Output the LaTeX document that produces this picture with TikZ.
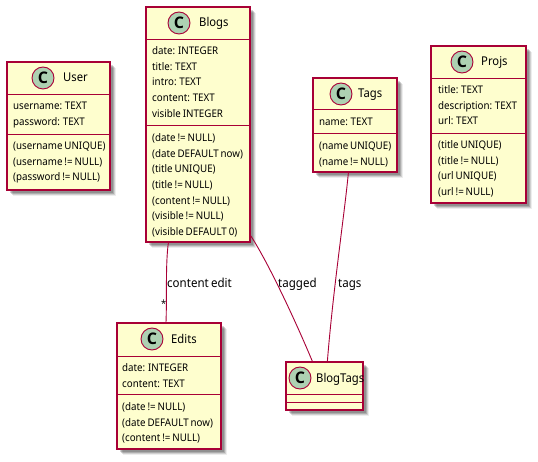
\documentclass[tikz,border=0pt]{standalone}
\usepackage{fontspec}
\setmainfont[FakeStretch=0.93,WordSpace=0.75]{Noto Sans}
\newfontfamily\spotfont{Open Sans}
\usetikzlibrary{shadows,calc}
\definecolor{umlline}{HTML}{A80036}
\definecolor{umlfill}{HTML}{FEFECE}
\definecolor{umlcirc}{HTML}{ADD1B2}
\tikzset{
  classbox/.style={draw=umlline,line width=1.25pt,fill=umlfill,rectangle,inner sep=0pt,
    general shadow={shadow xshift=6pt,shadow yshift=-6pt,fill=black,opacity=.07,draw=none},
    general shadow={shadow xshift=5pt,shadow yshift=-5pt,fill=black,opacity=.12,draw=none},
    general shadow={shadow xshift=4pt,shadow yshift=-4pt,fill=black,opacity=.17,draw=none},
    general shadow={shadow xshift=3pt,shadow yshift=-3pt,fill=black,opacity=.17,draw=none}},
  divider/.style={draw=umlline,line width=.9pt},
  spot/.style={circle,draw=umlline,line width=.9pt,fill=umlcirc,minimum size=22pt,inner sep=0pt,font=\spotfont\fontsize{16}{16}\selectfont\bfseries},
  classtitle/.style={anchor=base west,inner sep=0pt,font=\fontsize{12.1}{14}\selectfont},
  member/.style={anchor=base west,inner sep=0pt,font=\fontsize{10.5}{13}\selectfont},
  assoc/.style={draw=umlline,line width=.9pt},
  lbl/.style={inner sep=0pt,font=\fontsize{12.4}{14}\selectfont},
  starlbl/.style={inner sep=0pt,font=\fontsize{10}{12}\selectfont},
}
% name, x1, y1, x2, y2, header y, divider y, circle x, title x
\newcommand{\umlbox}[9]{%
  \node[classbox,minimum width=#4pt-#2pt,minimum height=#5pt-#3pt] (#1) at ({(#2+#4)/2},{(#3+#5)/2}) {};
  \draw[divider] (#1.west |- 0,#6) -- (#1.east |- 0,#6);
  \draw[divider] (#1.west |- 0,#7) -- (#1.east |- 0,#7);
  \node[spot] (#1-c) at (#8,{#3+16}) {C};
  \node[classtitle] (#1-t) at (#9,{#3+20}) {#1};
}
\newcommand{\umlrows}[5]{%
  \foreach \txt [count=\i] in {#5} {
    \node[member] (#1-#4-\i) at (#2,{#3+0.6+(\i-1)*15.65}) {\txt};
  }
}
\begin{document}
\begin{tikzpicture}[x=1pt,y=-1pt]
\useasboundingbox (0,0) rectangle (538,462);
\umlbox{Blogs}{146}{7}{250}{242}{39}{125}{179}{199}
\umlrows{Blogs}{152}{54}{a}{date: INTEGER,title: TEXT,intro: TEXT,content: TEXT,visible INTEGER}
\umlrows{Blogs}{152}{141}{b}{(date != NULL),(date DEFAULT now),(title UNIQUE),(title != NULL),(content != NULL),(visible != NULL),(visible DEFAULT 0)}
\umlbox{User}{7}{62}{110}{190}{94}{134}{43}{63}
\umlrows{User}{13}{109}{a}{username: TEXT,password: TEXT}
\umlrows{User}{13}{149}{b}{(username UNIQUE),(username != NULL),(password != NULL)}
\umlbox{Tags}{313}{78}{397}{172}{109}{133}{341}{358}
\umlrows{Tags}{319}{125}{a}{name: TEXT}
\umlrows{Tags}{319}{149}{b}{(name UNIQUE),(name != NULL)}
\umlbox{Projs}{431}{46}{526}{203}{78}{133}{462}{481}
\umlrows{Projs}{438}{93}{a}{title: TEXT,description: TEXT,url: TEXT}
\umlrows{Projs}{438}{148}{b}{(title UNIQUE),(title != NULL),(url UNIQUE),(url != NULL)}
\umlbox{Edits}{117}{323}{221}{449}{356}{394}{152}{171}
\umlrows{Edits}{122}{371}{a}{date: INTEGER,content: TEXT}
\umlrows{Edits}{122}{410}{b}{(date != NULL),(date DEFAULT now),(content != NULL)}
\umlbox{BlogTags}{286}{362}{363}{410}{394}{402}{300}{316}
\draw[assoc] ([xshift=23pt]Blogs.south west) .. controls +(-3,22) and +(1,-25) .. (Edits.north -| 166,0);
\draw[assoc] ([yshift=7pt]Blogs.south east) .. controls (268,262) and (296,322) .. ([xshift=27pt]BlogTags.north west);
\draw[assoc] ([xshift=36pt]Tags.north west |- Tags.south) .. controls (345,210) and (333,290) .. ([xshift=42pt]BlogTags.north west);
\node[lbl,anchor=base west] (l1) at (167,288) {content edit};
\node[lbl,anchor=base west] (l2) at (278,288) {tagged};
\node[lbl,anchor=base west] (l3) at (338,288) {tags};
\node[starlbl,anchor=base west] (l4) at (161,308) {*};
\end{tikzpicture}
\end{document}
